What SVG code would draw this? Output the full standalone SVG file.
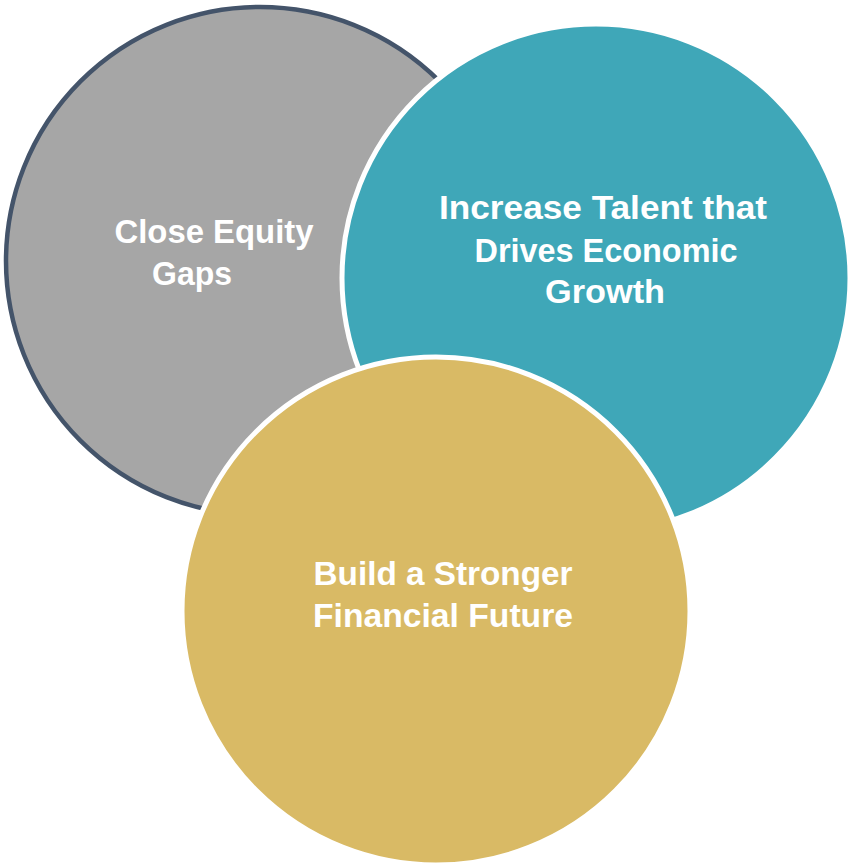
<svg xmlns="http://www.w3.org/2000/svg" width="849" height="866" viewBox="0 0 849 866">
  <style>
    .label { font-family: "Liberation Sans", Arial, sans-serif; font-weight: bold; font-size: 34px; fill: #ffffff; text-anchor: middle; }
    .ring { stroke: #ffffff; stroke-width: 5; }
  </style>
  <rect width="849" height="866" fill="#ffffff"/>
  <g id="connectors"/>
  <g id="equity">
    <circle cx="260" cy="261" r="254" fill="#a6a6a6" stroke="#44546a" stroke-width="4.5"/>
    <text class="label" x="214" y="243" textLength="199" lengthAdjust="spacingAndGlyphs">Close Equity</text>
    <text class="label" x="192" y="285" textLength="80" lengthAdjust="spacingAndGlyphs">Gaps</text>
  </g>
  <g id="talent">
    <circle class="ring" cx="596" cy="278" r="254" fill="#3fa7b8"/>
    <text class="label" x="603" y="219" textLength="328" lengthAdjust="spacingAndGlyphs">Increase Talent that</text>
    <text class="label" x="606" y="262" textLength="263" lengthAdjust="spacingAndGlyphs">Drives Economic</text>
    <text class="label" x="605" y="303" textLength="120" lengthAdjust="spacingAndGlyphs">Growth</text>
  </g>
  <g id="future">
    <circle class="ring" cx="436" cy="611" r="254" fill="#d9ba65"/>
    <text class="label" x="443" y="585" textLength="259" lengthAdjust="spacingAndGlyphs">Build a Stronger</text>
    <text class="label" x="443" y="627" textLength="260" lengthAdjust="spacingAndGlyphs">Financial Future</text>
  </g>
</svg>
